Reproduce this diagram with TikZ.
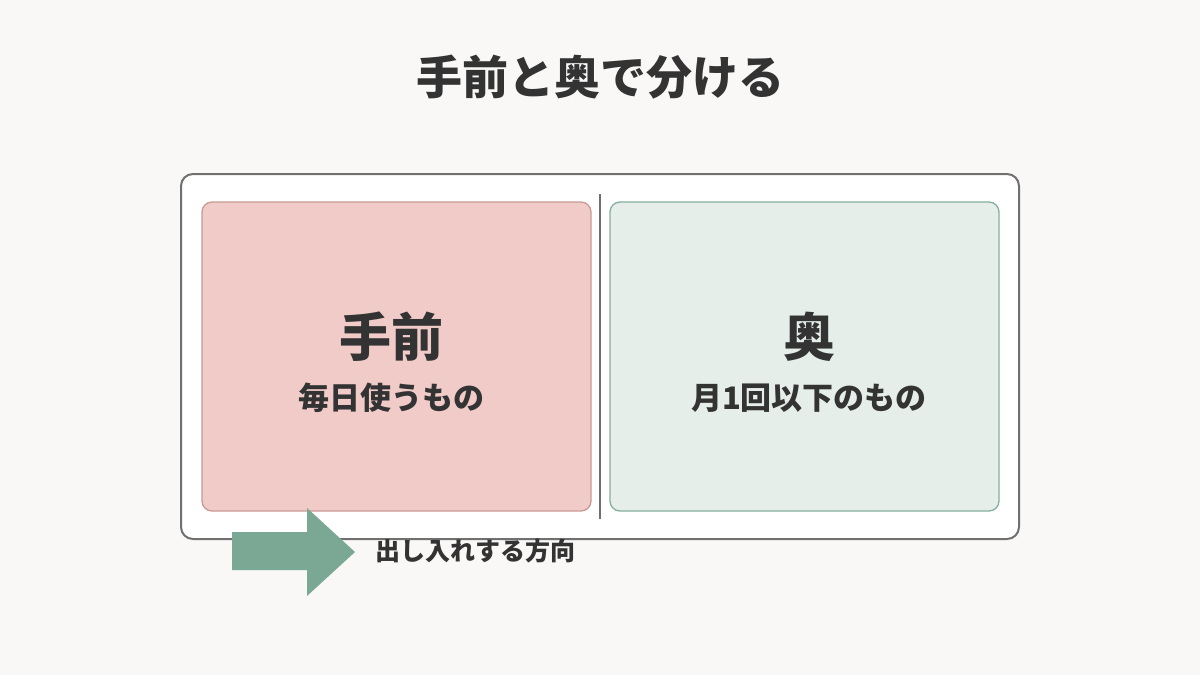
\documentclass[tikz,border=0pt]{standalone}
\usepackage{fontspec}
\newfontfamily\jpfont{Noto Sans CJK JP}
\definecolor{bg}{HTML}{F9F8F6}
\definecolor{ink}{HTML}{333333}
\definecolor{frame}{HTML}{707070}
\definecolor{redfill}{HTML}{F0CBC8}
\definecolor{redline}{HTML}{C99A95}
\definecolor{greenfill}{HTML}{E6EEE9}
\definecolor{greenline}{HTML}{86AE9E}
\definecolor{arrowc}{HTML}{7AA894}
\tikzset{
  panel/.style={rounded corners=10pt, line width=1.3pt},
  bigtxt/.style={font=\jpfont\bfseries\fontsize{52}{58}\selectfont, text=ink},
  subtxt/.style={font=\jpfont\bfseries\fontsize{31}{36}\selectfont, text=ink},
}
\begin{document}
\begin{tikzpicture}[x=1pt,y=-1pt]
\fill[bg] (0,0) rectangle (1200,675);
\useasboundingbox (0,0) rectangle (1200,675);
\node[font=\jpfont\bfseries\fontsize{46}{52}\selectfont, text=ink] (title) at (600,77) {手前と奥で分ける};
\draw[rounded corners=12pt, line width=2pt, draw=frame, fill=white] (181,174) rectangle (1019,539);
\draw[panel, draw=redline, fill=redfill] (202,202) rectangle (591,511);
\draw[panel, draw=greenline, fill=greenfill] (610,202) rectangle (999,511);
\draw[line width=1.5pt, draw=frame] (600,194) -- (600,519);
\node[bigtxt] (front) at (391,337) {手前};
\node[subtxt] (frontsub) at (391,398) {毎日使うもの};
\node[bigtxt] (back) at (809,337) {奥};
\node[subtxt] (backsub) at (809,398) {月1回以下のもの};
\fill[arrowc] (232,532) -- (307,532) -- (307,508) -- (355,552) -- (307,596) -- (307,570) -- (232,570) -- cycle;
\node[font=\jpfont\bfseries\fontsize{25}{30}\selectfont, text=ink, anchor=west] (dir) at (372,551) {出し入れする方向};
\end{tikzpicture}
\end{document}
